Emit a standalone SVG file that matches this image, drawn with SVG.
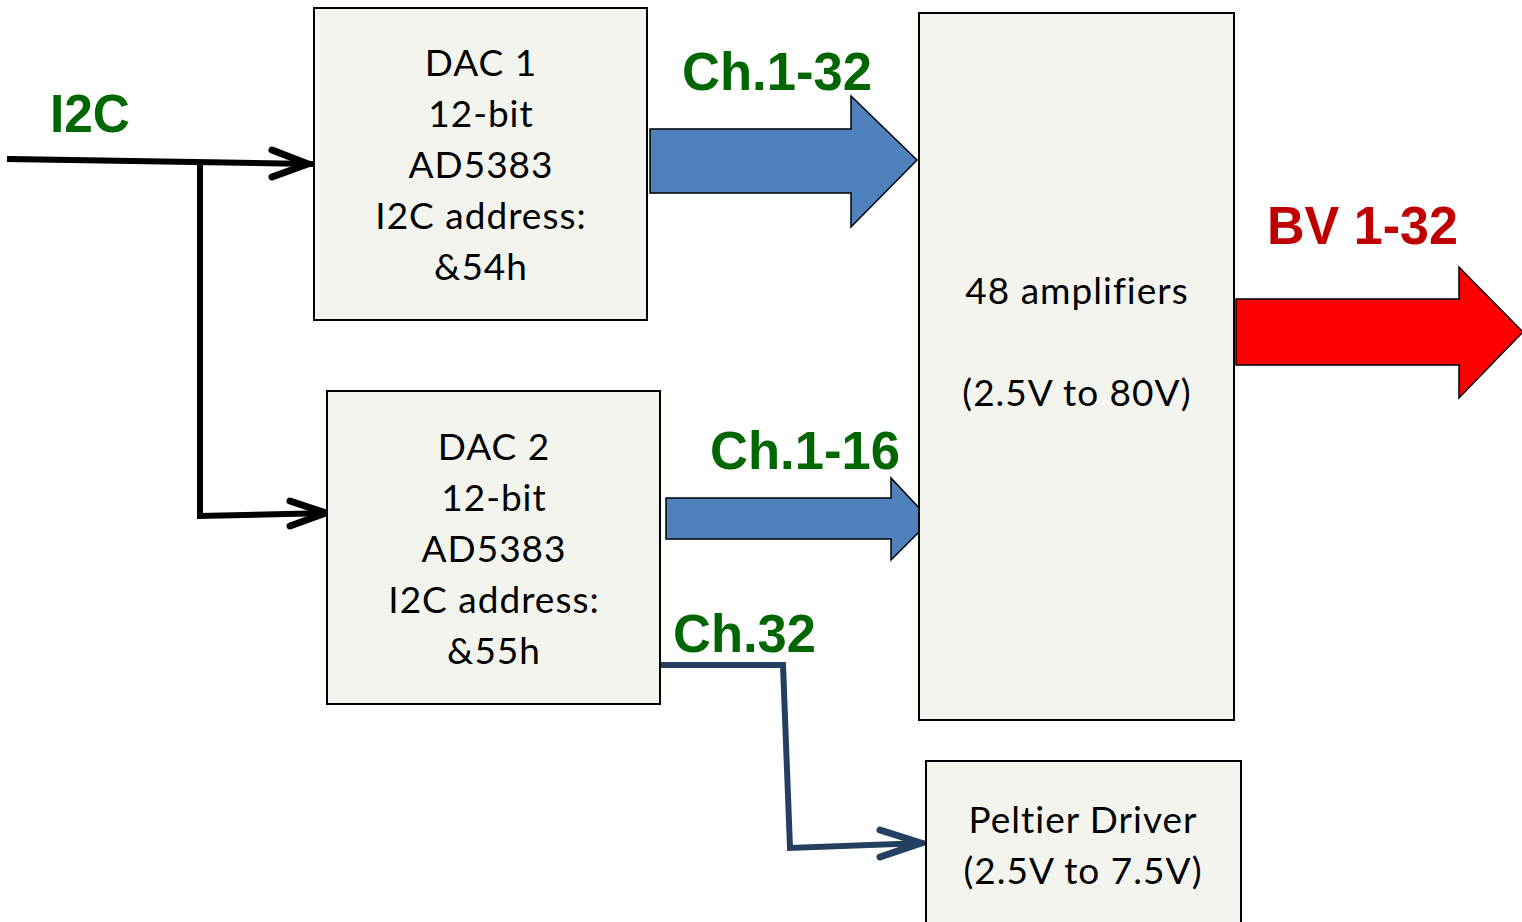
<svg xmlns="http://www.w3.org/2000/svg" width="1522" height="922" viewBox="0 0 1522 922">
<defs>
<style>
.box{fill:#f4f4ef;stroke:#000;stroke-width:2}
.t{font-family:Lato,"Open Sans",sans-serif;font-size:37px;letter-spacing:1px;font-variant-ligatures:none;fill:#000;text-anchor:middle}
.lbl{font-family:"Liberation Sans",Arial,sans-serif;font-weight:bold;font-size:54px;fill:#006600}
.red{fill:#c00000}
.wire{fill:none;stroke:#000;stroke-width:6;stroke-linecap:square;stroke-linejoin:miter}
.head{fill:none;stroke:#000;stroke-width:7;stroke-linecap:round;stroke-linejoin:miter}
.blue{fill:#4f81bd;stroke:#000;stroke-width:1.5}
</style>
</defs>
<rect width="1522" height="922" fill="#fff"/>
<g id="connectors">
<polyline class="wire" points="10,159 310,164"/>
<polyline class="head" points="272,150 308,164 272,177"/>
<polyline class="wire" points="200,164 200,516 326,513"/>
<polyline class="head" points="290,501 326,513 290,526"/>
<polyline class="wire" style="stroke:#243f60" points="662,665 783,665 790,848 921,843"/>
<polyline class="head" style="stroke:#243f60" points="880,830 921,843 880,857"/>
<polygon class="blue" points="650,129 851,129 851,96 917,160 851,227 851,193 650,193"/>
<polygon class="blue" points="666,498 891,498 891,478 921,510 921,530 891,560 891,539 666,539"/>
<polygon fill="#ff0000" stroke="#000" stroke-width="1.5" points="1236,299 1459,299 1459,267 1523,332 1459,398 1459,365 1236,365"/>
</g>
<g id="dac1">
<rect class="box" x="314" y="8" width="333" height="312"/>
<text class="t" x="481" y="76">DAC 1</text>
<text class="t" x="481" y="127">12-bit</text>
<text class="t" x="481" y="178">AD5383</text>
<text class="t" x="481" y="229">I2C address:</text>
<text class="t" x="481" y="280">&amp;54h</text>
</g>
<g id="dac2">
<rect class="box" x="327" y="391" width="333" height="313"/>
<text class="t" x="494" y="460">DAC 2</text>
<text class="t" x="494" y="511">12-bit</text>
<text class="t" x="494" y="562">AD5383</text>
<text class="t" x="494" y="613">I2C address:</text>
<text class="t" x="494" y="664">&amp;55h</text>
</g>
<g id="amplifiers">
<rect class="box" x="919" y="13" width="315" height="707"/>
<text class="t" x="1077" y="304">48 amplifiers</text>
<text class="t" x="1077" y="406">(2.5V to 80V)</text>
</g>
<g id="peltier">
<rect class="box" x="926" y="761" width="315" height="170"/>
<text class="t" x="1083" y="833">Peltier Driver</text>
<text class="t" x="1083" y="884">(2.5V to 7.5V)</text>
</g>
<g id="labels">
<text class="lbl" x="50" y="132" textLength="80" lengthAdjust="spacingAndGlyphs">I2C</text>
<text class="lbl" x="682" y="90" textLength="190" lengthAdjust="spacingAndGlyphs">Ch.1-32</text>
<text class="lbl" x="710" y="469" textLength="190" lengthAdjust="spacingAndGlyphs">Ch.1-16</text>
<text class="lbl" x="673" y="652" textLength="143" lengthAdjust="spacingAndGlyphs">Ch.32</text>
<text class="lbl red" x="1267" y="244" textLength="191" lengthAdjust="spacingAndGlyphs">BV 1-32</text>
</g>
</svg>
